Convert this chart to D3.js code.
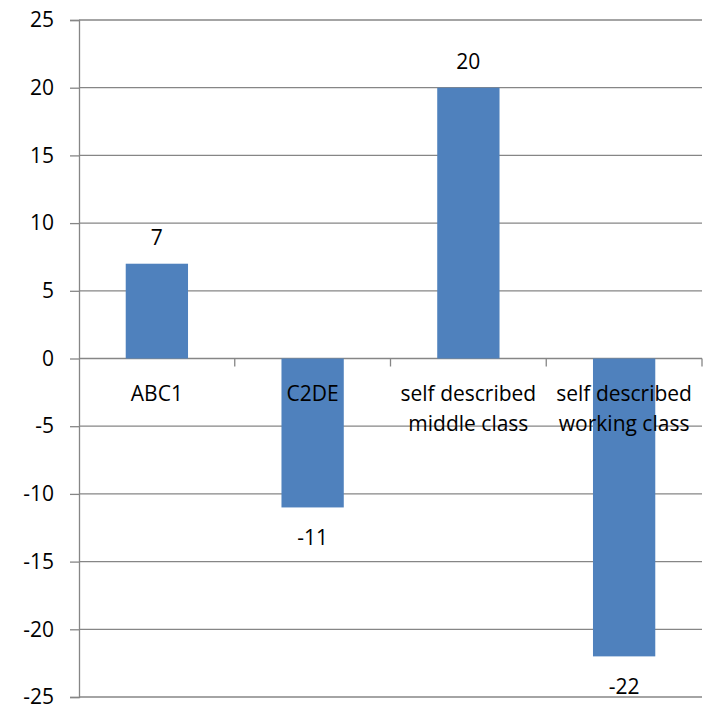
<!DOCTYPE html>
<html>
<head>
<meta charset="utf-8">
<script src="https://cdn.jsdelivr.net/npm/d3@7"></script>
<style>
  body { margin: 0; background: #fff; }
  svg text { font-family: "Open Sans", sans-serif; font-size: 21px; fill: #000; }
</style>
</head>
<body>
<svg id="chart" width="708" height="707"></svg>
<script>
// Values
const categories = ["ABC1", "C2DE", "self described middle class", "self described working class"];
const categoryLines = [["ABC1"], ["C2DE"], ["self described", "middle class"], ["self described", "working class"]];
const values = [7, -11, 20, -22];
const yTicks = [-25, -20, -15, -10, -5, 0, 5, 10, 15, 20, 25];

const data = categories.map((c, i) => ({ cat: c, lines: categoryLines[i], value: values[i] }));

const svg = d3.select("#chart");
const margin = { top: 20, right: 6, bottom: 10, left: 79 };
const innerWidth = 708 - margin.left - margin.right;
const innerHeight = 707 - margin.top - margin.bottom;

const g = svg.append("g")
  .attr("transform", `translate(${margin.left},${margin.top})`);

// Scales
const x = d3.scaleBand()
  .domain(categories)
  .range([0, innerWidth])
  .paddingInner(0.6)
  .paddingOuter(0.3);

// plain bands, for the category tick marks
const xCat = d3.scaleBand()
  .domain(categories)
  .range([0, innerWidth]);

const y = d3.scaleLinear()
  .domain([-25, 25])
  .range([innerHeight, 0]);

const gridColor = "#868686";

// Gridlines
g.selectAll(".grid")
  .data(yTicks)
  .join("line")
  .attr("class", "grid")
  .attr("x1", 0)
  .attr("x2", innerWidth)
  .attr("y1", d => y(d))
  .attr("y2", d => y(d))
  .attr("stroke", gridColor)
  .attr("stroke-width", 1.3);

// Bars
g.selectAll("rect")
  .data(data)
  .join("rect")
  .attr("x", d => x(d.cat))
  .attr("width", x.bandwidth())
  .attr("y", d => y(Math.max(0, d.value)))
  .attr("height", d => Math.abs(y(d.value) - y(0)))
  .attr("fill", "#4F81BD");

// Y axis (plain hyphen for negatives, like the original)
const yAxis = g.append("g")
  .call(d3.axisLeft(y).tickValues(yTicks).tickSize(9).tickPadding(16).tickFormat(d => String(d)));
yAxis.select(".domain").attr("stroke", gridColor).attr("stroke-width", 1.3);
yAxis.selectAll(".tick line").attr("stroke", gridColor).attr("stroke-width", 1.3);
yAxis.selectAll(".tick text")
  .style("font-family", "'Open Sans', sans-serif")
  .style("font-size", "21px")
  .attr("fill", "#000");

// Category axis on the zero line
const catAxis = g.append("g").attr("transform", `translate(0,${y(0)})`);
catAxis.selectAll("line")
  .data(categories)
  .join("line")
  .attr("x1", d => xCat(d) + xCat.bandwidth())
  .attr("x2", d => xCat(d) + xCat.bandwidth())
  .attr("y1", 0)
  .attr("y2", 8)
  .attr("stroke", gridColor)
  .attr("stroke-width", 1.3);

// Category labels
const catText = catAxis.selectAll("text")
  .data(data)
  .join("text")
  .attr("text-anchor", "middle")
  .attr("y", 42);
catText.selectAll("tspan")
  .data(d => d.lines.map(l => ({ line: l, cx: xCat(d.cat) + xCat.bandwidth() / 2 })))
  .join("tspan")
  .attr("x", d => d.cx)
  .attr("dy", (d, i) => i === 0 ? 0 : 30)
  .text(d => d.line);

// Value labels
g.selectAll(".value")
  .data(data)
  .join("text")
  .attr("class", "value")
  .attr("text-anchor", "middle")
  .attr("x", d => x(d.cat) + x.bandwidth() / 2)
  .attr("y", d => d.value >= 0 ? y(d.value) - 19 : y(d.value) + 38)
  .text(d => d.value);
</script>
</body>
</html>
